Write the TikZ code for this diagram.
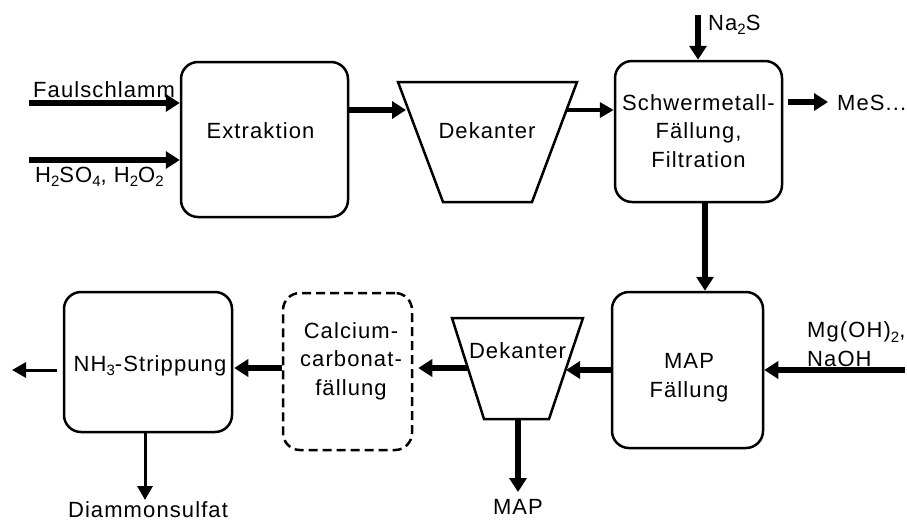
\documentclass[tikz,border=0pt]{standalone}
\usepackage{fontspec}
\setmainfont{Liberation Sans}[LetterSpace=5]
\usetikzlibrary{arrows.meta}
% chemical subscript, set low and fairly large
\newcommand\chsub[1]{\raisebox{-4.5pt}{\fontsize{15}{15}\selectfont #1}}

\begin{document}
\begin{tikzpicture}[x=1pt,y=-1pt,
  txt/.style={font=\fontsize{22}{28.5}\selectfont, inner sep=0pt, align=center, anchor=base},
  ltxt/.style={txt, align=left, anchor=base west},
  box/.style={draw, line width=2.5pt, rounded corners=17pt, inner sep=0pt},
  dashbox/.style={box, dash pattern=on 9pt off 5pt},
  vessel/.style={draw, line width=2.5pt, line join=miter},
  flow/.style={line width=6pt, -{Triangle[length=14pt,width=17pt]}},
  thinflow/.style={line width=3pt, -{Triangle[length=14pt,width=15pt]}}
]
\useasboundingbox (0,0) rectangle (907,520);

% process units
\node[box, minimum width=167pt, minimum height=155pt] (ext) at (264.5,139.5) {};
\node[box, minimum width=167pt, minimum height=141pt] (schw) at (698.5,131.5) {};
\node[box, minimum width=151pt, minimum height=156pt] (map) at (687.5,370) {};
\node[dashbox, minimum width=129pt, minimum height=157pt] (calc) at (347.5,371.5) {};
\node[box, minimum width=168pt, minimum height=140pt] (nh3) at (148,362) {};

% decanters
\draw[vessel] (398,82) -- (577,82) -- (532,202) -- (443,202) -- cycle;
\draw[vessel] (452,318) -- (583,318) -- (549,419) -- (484,419) -- cycle;

% texts inside the units (multi-line nodes sit on their last line)
\node[txt] (extT) at (260.5,138) {Extraktion};
\node[txt] (dek1) at (487,138) {Dekanter};
\node[txt] (schwT) at (698.5,167) {Schwermetall-\\Fällung,\\Filtration};
\node[txt] (mapT) at (689,397) {MAP\\Fällung};
\node[txt] (dek2) at (517.5,358) {Dekanter};
\node[txt] (calcT) at (351,395) {Calcium-\\carbonat-\\fällung};
\node[txt] (nh3T) at (150,371) {NH\chsub{3}-Strippung};

% streams in and out
\node[ltxt] (faul) at (33,97) {Faulschlamm};
\node[ltxt] (acid) at (35,182) {H\chsub{2}SO\chsub{4}, H\chsub{2}O\chsub{2}};
\node[ltxt] (nas) at (708,30) {Na\chsub{2}S};
\node[ltxt] (mes) at (837,110) {MeS...};
\node[ltxt] (mg) at (807,366) {Mg(OH)\chsub{2},\\NaOH};
\node[txt] (mapout) at (518,514) {MAP};
\node[txt] (dias) at (148,517) {Diammonsulfat};

% end points of the connectors
\coordinate (faulS) at (29,103);
\coordinate (acidS) at (29,160);
\coordinate (d1in) at (406,110);
\coordinate (d1out) at (567,110);
\coordinate (nasS) at (698,15);
\coordinate (mesE) at (828,102);
\coordinate (s2m) at (705,0);
\coordinate (mgS) at (905,370);
\coordinate (d2in) at (566,370);
\coordinate (d2out) at (467,368);
\coordinate (d2bot) at (518,419);
\coordinate (mapE) at (518,492);
\coordinate (outE) at (12,370);
\coordinate (diasE) at (145,500);

% connectors
\draw[flow] (faulS) -- (faulS -| ext.west);
\draw[flow] (acidS) -- (acidS -| ext.west);
\draw[flow] (d1in -| ext.east) -- (d1in);
\draw[thinflow, line width=3.5pt] (d1out) -- (d1out -| schw.west);
\draw[flow] (nasS) -- (nasS |- schw.north);
\draw[flow] ([xshift=5pt]mesE -| schw.east) -- (mesE);
\draw[flow] (s2m |- schw.south) -- (s2m |- map.north);
\draw[flow] (mgS) -- (mgS -| map.east);
\draw[flow] (d2in -| map.west) -- (d2in);
\draw[flow] (d2out) -- ([xshift=5pt]d2out -| calc.east);
\draw[flow] (d2out -| calc.west) -- ([xshift=1pt]d2out -| nh3.east);
\draw[thinflow] ([xshift=-6pt]outE -| nh3.west) -- (outE);
\draw[thinflow] (diasE |- nh3.south) -- (diasE);
\draw[flow] (d2bot) -- (mapE);
\end{tikzpicture}
\end{document}
